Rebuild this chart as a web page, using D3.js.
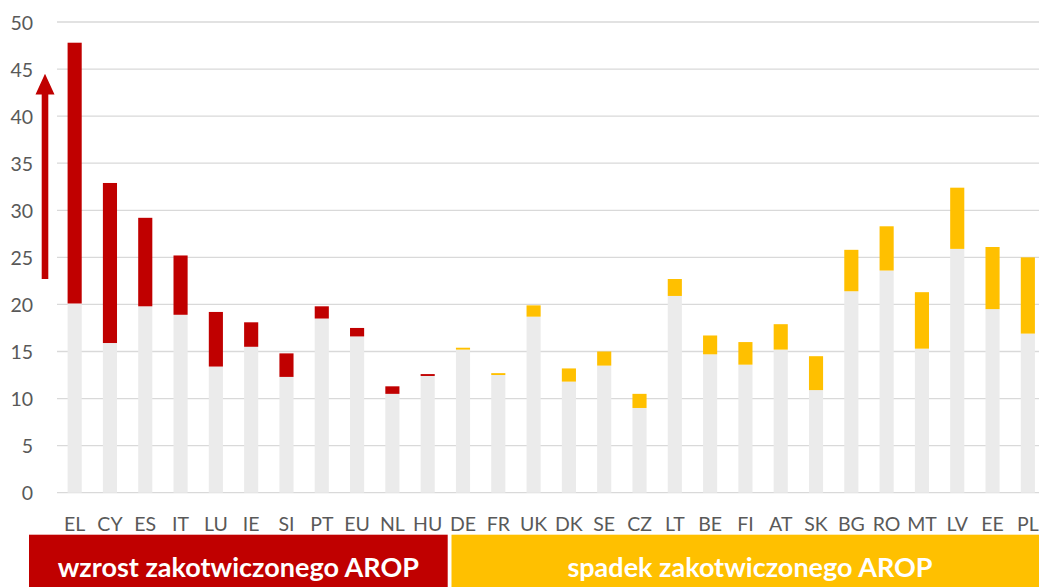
<!DOCTYPE html>
<html>
<head>
<meta charset="utf-8">
<script src="https://cdn.jsdelivr.net/npm/d3@7"></script>
<style>
    body { margin: 0; background: #fff; }
    .axis text { font-family: Lato, "Open Sans", sans-serif; font-size: 19.5px; fill: #595959; }
    .axis path { display: none; }
</style>
</head>
<body>
<div id="chart"></div>
<script>
// country codes, ordered as on the picture
const countries = ['EL', 'CY', 'ES', 'IT', 'LU', 'IE', 'SI', 'PT', 'EU', 'NL', 'HU',
    'DE', 'FR', 'UK', 'DK', 'SE', 'CZ', 'LT', 'BE', 'FI', 'AT', 'SK', 'BG', 'RO', 'MT', 'LV', 'EE', 'PL'];

// lower value of each bar (grey part)
const lowValues = [20.1, 15.9, 19.8, 18.9, 13.4, 15.5, 12.3, 18.5, 16.6, 10.5, 12.4,
    15.2, 12.5, 18.7, 11.8, 13.5, 9.0, 20.9, 14.7, 13.6, 15.2, 10.9, 21.4, 23.6, 15.3, 25.9, 19.5, 16.9];

// upper value of each bar (top of the coloured part)
const highValues = [47.8, 32.9, 29.2, 25.2, 19.2, 18.1, 14.8, 19.8, 17.5, 11.3, 12.6,
    15.4, 12.7, 19.9, 13.2, 15.0, 10.5, 22.7, 16.7, 16.0, 17.9, 14.5, 25.8, 28.3, 21.3, 32.4, 26.1, 25.0];

// first 11 countries: growth, the rest: drop
const groupSplit = 11;
const groupLabels = ['wzrost zakotwiczonego AROP', 'spadek zakotwiczonego AROP'];

const yTicks = [0, 5, 10, 15, 20, 25, 30, 35, 40, 45, 50];

const RED = '#C00000';
const YELLOW = '#FFC000';
const GREY = '#EBEBEB';

const drawChart = () => {
    const totalWidth = 1039;
    const totalHeight = 587;
    const margin = {top: 22, left: 57, bottom: 94};

    const svg = d3.select('#chart').append('svg')
        .attr('width', totalWidth)
        .attr('height', totalHeight);

    const x = d3.scaleBand()
        .domain(countries)
        .range([margin.left, 1045.5])
        .paddingInner(0.6)
        .paddingOuter(0.3);

    const y = d3.scaleLinear()
        .domain([0, 50])
        .range([492.7, margin.top]);

    // gridlines
    svg.append('g')
        .selectAll('line')
        .data(yTicks)
        .enter().append('line')
        .attr('x1', margin.left)
        .attr('x2', totalWidth)
        .attr('y1', d => y(d))
        .attr('y2', d => y(d))
        .attr('stroke', '#D9D9D9')
        .attr('stroke-width', 1.3);

    const data = countries.map((c, i) => ({c: c, low: lowValues[i], high: highValues[i], i: i}));

    // grey part
    svg.append('g')
        .selectAll('rect')
        .data(data)
        .enter().append('rect')
        .attr('x', d => x(d.c))
        .attr('width', x.bandwidth())
        .attr('y', d => y(d.low))
        .attr('height', d => y(0) - y(d.low))
        .attr('fill', GREY);

    // coloured part
    svg.append('g')
        .selectAll('rect')
        .data(data)
        .enter().append('rect')
        .attr('x', d => x(d.c))
        .attr('width', x.bandwidth())
        .attr('y', d => y(d.high))
        .attr('height', d => y(d.low) - y(d.high))
        .attr('fill', d => d.i < groupSplit ? RED : YELLOW);

    // y axis
    svg.append('g')
        .attr('class', 'axis')
        .attr('transform', `translate(${margin.left}, 0)`)
        .call(d3.axisLeft(y).tickValues(yTicks).tickSize(0).tickPadding(24))
        .selectAll('text')
        .attr('dy', '0.36em');

    // x axis
    svg.append('g')
        .attr('class', 'axis')
        .attr('transform', `translate(0, ${y(0)})`)
        .call(d3.axisBottom(x).tickSize(0))
        .selectAll('text')
        .attr('dy', null)
        .attr('y', 38);

    // red arrow on the left
    const ax = 45;
    const shaftW = 6.6;
    const headW = 19;
    const yBottom = y(22.7);
    const yHeadBase = y(42.3);
    const yTip = y(44.5);
    svg.append('path')
        .attr('d', `M${ax - shaftW / 2},${yBottom} L${ax - shaftW / 2},${yHeadBase} L${ax - headW / 2},${yHeadBase}` +
            ` L${ax},${yTip} L${ax + headW / 2},${yHeadBase} L${ax + shaftW / 2},${yHeadBase} L${ax + shaftW / 2},${yBottom} Z`)
        .attr('fill', RED);

    // group boxes below the axis
    const boxes = [
        {x0: 29, x1: 447.7, fill: RED, label: groupLabels[0]},
        {x0: 451.5, x1: totalWidth, fill: YELLOW, label: groupLabels[1]}
    ];
    const bg = svg.append('g')
        .selectAll('g')
        .data(boxes)
        .enter().append('g');
    bg.append('rect')
        .attr('x', d => d.x0)
        .attr('y', 534.7)
        .attr('width', d => d.x1 - d.x0)
        .attr('height', totalHeight - 534.7)
        .attr('fill', d => d.fill);
    bg.append('text')
        .attr('x', (d, i) => i == 0 ? (d.x0 + d.x1) / 2 : 750)
        .attr('y', 576.5)
        .attr('text-anchor', 'middle')
        .attr('fill', '#fff')
        .style('font-family', 'Lato, "Open Sans", sans-serif')
        .style('font-weight', 'bold')
        .style('font-size', '27px')
        .text(d => d.label);
}

drawChart();
</script>
</body>
</html>
